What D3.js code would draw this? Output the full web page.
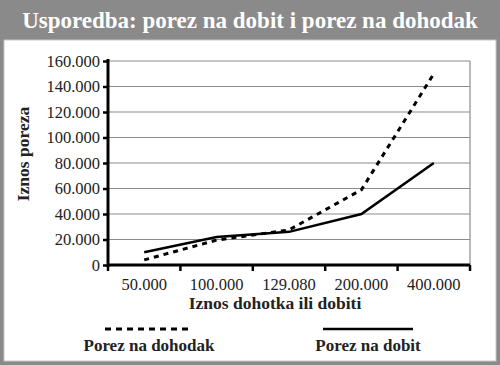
<!DOCTYPE html>
<html><head><meta charset="utf-8">
<script src="https://cdn.jsdelivr.net/npm/d3@7"></script>
<style>html,body{margin:0;padding:0;background:#fff}svg{display:block}</style>
</head><body>
<script>
const categories = ["50.000","100.000","129.080","200.000","400.000"];
const porezNaDobit = [10000, 22000, 26000, 40000, 80000];
const porezNaDohodak = [4000, 19500, 27500, 59000, 150000];
const yTicks = [0,20000,40000,60000,80000,100000,120000,140000,160000];
const titleText = "Usporedba: porez na dobit i porez na dohodak";
const yTitle = "Iznos poreza";
const xTitle = "Iznos dohotka ili dobiti";
const seriesNames = ["Porez na dohodak","Porez na dobit"];

const W=500,H=365;
const font = "'Liberation Serif','DejaVu Serif',serif";
const svg = d3.select("body").append("svg").attr("width",W).attr("height",H);

svg.append("rect").attr("width",W).attr("height",H).attr("fill","#8a8a8a");
svg.append("rect").attr("x",4).attr("y",40).attr("width",492).attr("height",321)
  .attr("fill","#fff").attr("stroke","#c8c8c8").attr("stroke-width",1);

const title = svg.append("text").attr("x",250).attr("y",28).attr("text-anchor","middle")
  .attr("fill","#fff").attr("font-family",font).attr("font-weight","bold")
  .attr("font-size",22).text(titleText);
{ const w = title.node().getComputedTextLength(); title.attr("font-size", 22*456/w); }

const x = d3.scaleBand().domain(categories).range([108,470]);
const y = d3.scaleLinear().domain([0,160000]).range([265,61]);

// gridlines
svg.append("g").selectAll("line").data(yTicks.slice(1)).join("line")
  .attr("x1",108).attr("x2",470).attr("y1",d=>y(d)).attr("y2",d=>y(d))
  .attr("stroke","#8c8c8c").attr("stroke-width",1.2);
svg.append("line").attr("x1",470).attr("x2",470).attr("y1",y(160000)).attr("y2",y(0))
  .attr("stroke","#8c8c8c").attr("stroke-width",1.2);

const fmt = d => d===0 ? "0" : d3.format(",")(d).replace(/,/g,".");
const yAxis = svg.append("g").attr("transform","translate(108,0)")
  .call(d3.axisLeft(y).tickValues(yTicks).tickFormat(fmt).tickSize(5).tickPadding(3));
const xAxis = svg.append("g").attr("transform","translate(0,265)")
  .call(d3.axisBottom(x).tickSize(0).tickPadding(13));
// band boundary ticks
svg.append("g").selectAll("line").data(d3.range(categories.length+1)).join("line")
  .attr("x1",i=>108+i*x.step()).attr("x2",i=>108+i*x.step()).attr("y1",265).attr("y2",271)
  .attr("stroke","#000").attr("stroke-width",2.5);
[yAxis,xAxis].forEach(a=>{
  a.select(".domain").attr("stroke","#000").attr("stroke-width",3);
  a.selectAll(".tick line").attr("stroke","#000").attr("stroke-width",2.5);
  a.selectAll("text").attr("font-family",font).attr("font-size",16.5).attr("fill","#222");
});
yAxis.select(".domain").attr("d","M0,59V267");
xAxis.select(".domain").attr("d","M107,0H470");

const line = d3.line().x((d,i)=>x(categories[i])+x.bandwidth()/2).y(d=>y(d));
svg.append("path").datum(porezNaDohodak).attr("d",line).attr("fill","none")
  .attr("stroke","#000").attr("stroke-width",3).attr("stroke-dasharray","5,5");
svg.append("path").datum(porezNaDobit).attr("d",line).attr("fill","none")
  .attr("stroke","#000").attr("stroke-width",2.5);

svg.append("text").attr("transform","translate(29,154) rotate(-90)").attr("text-anchor","middle")
  .attr("font-family",font).attr("font-weight","bold").attr("font-size",17.5).attr("fill","#222").text(yTitle);
svg.append("text").attr("x",275).attr("y",309).attr("text-anchor","middle")
  .attr("font-family",font).attr("font-weight","bold").attr("font-size",17.5).attr("fill","#222").text(xTitle);

// legend
const leg = [{x1:105,x2:192,cx:149,dash:"6,5",w:3},{x1:323,x2:413,cx:368,dash:null,w:2.5}];
leg.forEach((l,i)=>{
  svg.append("line").attr("x1",l.x1).attr("x2",l.x2).attr("y1",329).attr("y2",329)
    .attr("stroke","#000").attr("stroke-width",l.w).attr("stroke-dasharray",l.dash);
  svg.append("text").attr("x",l.cx).attr("y",351).attr("text-anchor","middle")
    .attr("font-family",font).attr("font-weight","bold").attr("font-size",17).attr("fill","#222").text(seriesNames[i]);
});
</script>
</body></html>
